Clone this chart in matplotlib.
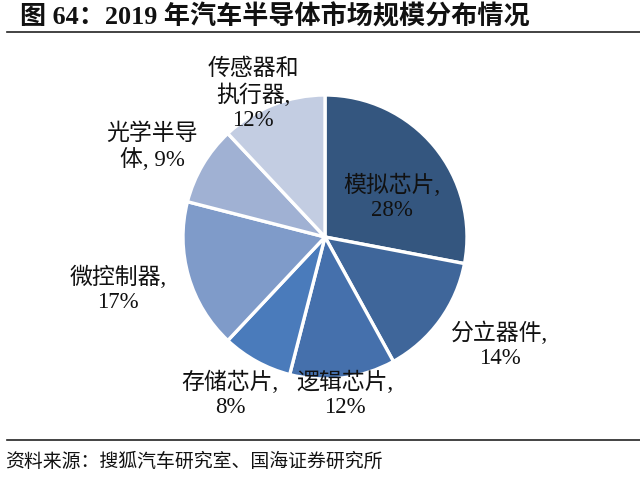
import matplotlib
matplotlib.use('Agg')
import matplotlib.pyplot as plt
from matplotlib.lines import Line2D

plt.rcParams['font.family'] = ['Liberation Serif', 'Noto Sans CJK SC', 'DejaVu Sans']

# data
names = ['模拟芯片', '分立器件', '逻辑芯片', '存储芯片', '微控制器', '光学半导体', '传感器和执行器']
shares = [28, 14, 12, 8, 17, 9, 12]
label_texts = ['模拟芯片,\n28%', '分立器件,\n14%', '逻辑芯片,\n12%', '存储芯片,\n8%',
               '微控制器,\n17%', '光学半导\n体, 9%', '传感器和\n执行器,\n12%']
colors = ['#34567f', '#3f669a', '#4570ac', '#4a7bbb', '#7f9bc9', '#a0b1d3', '#c3cde2']

# label positions (pixels from top-left)
label_pos = [(392, 197), (500, 345), (345, 394), (230, 394),
             (118, 289), (152, 147), (253, 95)]

W, H = 640, 481
fig = plt.figure(figsize=(6.4, 4.81), dpi=100)
ax = fig.add_axes([0, 0, 1, 1])

ax.pie(shares, colors=colors, startangle=90, counterclock=False,
       center=(325, H - 238), radius=142, frame=True,
       wedgeprops=dict(edgecolor='white', linewidth=2.4))
ax.set_xlim(0, W)
ax.set_ylim(0, H)
ax.axis('off')

for txt, (x, y) in zip(label_texts, label_pos):
    ax.text(x, H - y, txt, ha='center', va='center', fontsize=16.5,
            color='#111111', linespacing=1.2)

# title and source
fig.text(20 / W, 1 - 17 / H, '图 64：2019 年汽车半导体市场规模分布情况',
         fontsize=18.8, fontweight='bold', ha='left', va='center', color='#111111')
fig.add_artist(Line2D([7 / W, 1], [1 - 33 / H, 1 - 33 / H], color='#222222', lw=1.2))
fig.add_artist(Line2D([7 / W, 1], [1 - 441 / H, 1 - 441 / H], color='#222222', lw=1.2))
fig.text(5 / W, 1 - 462 / H, '资料来源：搜狐汽车研究室、国海证券研究所',
         fontsize=13.6, ha='left', va='center', color='#111111')

fig.savefig('out.png', dpi=100)
